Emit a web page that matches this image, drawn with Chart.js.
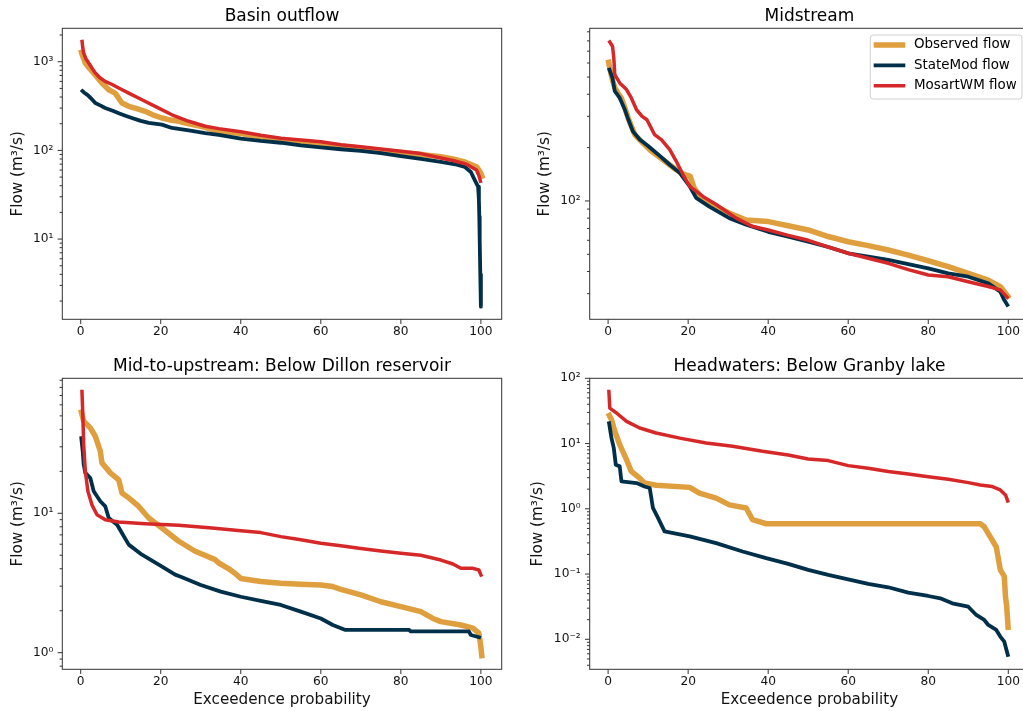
<!DOCTYPE html>
<html>
<head>
<meta charset="utf-8">
<script src="https://cdn.jsdelivr.net/npm/chart.js@4.4.1/dist/chart.umd.min.js"></script>
<style>
  html, body { margin: 0; padding: 0; background: #fff; overflow: hidden; width: 1023px; height: 711px; }
  canvas { position: absolute; }
</style>
</head>
<body>
<canvas id="basin" width="512" height="340" style="left:0;top:0"></canvas>
<canvas id="mid" width="530" height="340" style="left:512px;top:0"></canvas>
<canvas id="dillon" width="512" height="371" style="left:0;top:340px"></canvas>
<canvas id="granby" width="530" height="371" style="left:512px;top:340px"></canvas>
<script>
// series names / colours
const seriesNames = ['Observed flow', 'StateMod flow', 'MosartWM flow'];
const seriesColors = ['#e09f3e', '#003049', '#d62828'];
const xTicks = [0, 20, 40, 60, 80, 100];

// [exceedence %, flow m3/s]
const basinObserved = [[0,1365],[0.5,1150],[1.15,967],[2,860],[3.2,747],[4.2,660],[5.3,575],[7,483],[8.6,443],[10.3,342],[12,314],[14,295],[16.1,276],[18,252],[20.3,232],[22,222],[24.5,213],[27,200],[30.3,186],[34.5,164],[40,155],[45,142],[50,132],[55,126],[60,120],[65,112],[70,106],[75,100],[80,95],[85,90],[90,85],[93,80],[96,74],[98,68],[99,65],[100,55],[100.5,48]];
const basinStateMod = [[0.1,483],[0.8,450],[1.6,425],[2.5,390],[3.65,342],[5,320],[6.1,301],[8,280],[9.5,263],[11,248],[12.8,232],[15,215],[17,204],[20.3,195],[22.8,179],[27,168],[31.1,157],[34.5,150],[40,136],[45,128],[50,122],[55,114],[60,108],[65,103],[70,99],[75,93],[80,86],[85,80],[90,74],[94,69],[96,65],[97.5,57],[98.5,46],[99.3,39],[99.5,28],[99.6,18],[99.7,10],[99.85,4],[100,1.73]];
const basinMosart = [[0.3,1770],[0.5,1450],[0.75,1250],[1.3,1080],[2,967],[2.8,850],[3.65,747],[4.8,660],[6.1,601],[8,550],[9.5,505],[12,443],[15.3,373],[18.6,314],[22.8,252],[27,213],[31.1,187],[34.5,176],[40,162],[45,148],[50,137],[55,131],[60,125],[65,116],[70,110],[75,104],[80,98],[85,92],[90,82],[93,77],[96.4,70],[98.9,60],[99.5,52],[100,43]];

const midObserved = [[0,627],[0.4,563],[1,490],[1.67,435],[2.5,405],[3.3,381],[4.2,335],[5,294],[6.65,237],[8.7,212],[10.8,191],[13.7,171],[17,150],[19,141],[20.5,138],[21.5,118],[24.1,100],[28.7,89],[31,84],[34.5,78],[40,76.5],[45,72.5],[50,68.6],[55,63],[60,58.9],[65,56],[70,52.9],[75,49.5],[80,46],[85,42.6],[90,39],[95,35.8],[98,32.9],[100.3,28.2]];
const midStateMod = [[0.17,563],[1.1,494],[1.67,416],[2.9,381],[4.2,327],[5,290],[6.2,247],[7.9,222],[10,204],[12.5,183],[15.4,160],[17.9,144],[20.4,121],[22,104],[25.3,93],[30.3,80],[34.5,73.5],[40,67],[45,63],[50,59],[55,55],[60,50.7],[65,48.5],[70,46.5],[75,44],[80,41.7],[85,39],[90,37.4],[95,34.3],[98,30.8],[99,27.6],[100,25.4]];
const midMosart = [[0.17,803],[1.1,747],[1.42,641],[1.67,516],[2.9,463],[4.6,425],[5.8,381],[7.1,327],[8.5,300],[9.7,287],[11.6,237],[13.3,222],[15.4,195],[17,168],[18.7,141],[20.4,121],[23.7,106],[27,95.5],[32,80],[36,72],[40,68.6],[45,64],[50,60],[55,55],[60,50.7],[65,47.5],[70,44.5],[75,41],[80,38.2],[85,37.4],[90,35],[95,32.9],[98,31.5],[100,28.2]];

const dillonObserved = [[0,55.5],[0.75,45.7],[2.4,41],[3.65,35.7],[4.9,27.9],[5.3,23],[7.4,19.5],[9.5,17.4],[10.3,14],[12,12.9],[14.5,11.2],[17,9.25],[20.3,7.84],[24.5,6.3],[28.6,5.34],[33.6,4.65],[34.5,4.4],[37,4.0],[38.6,3.7],[40,3.41],[45,3.24],[50,3.15],[55,3.1],[60,3.06],[63,2.98],[65,2.85],[70,2.6],[75,2.32],[80,2.14],[85,1.97],[88,1.76],[90,1.67],[95,1.58],[98,1.5],[99.5,1.38],[100,1.1],[100.3,0.91]];
const dillonStateMod = [[0.1,35.7],[0.5,27.9],[0.75,22.3],[1.15,19.5],[2.4,17.9],[3.25,14.4],[4.9,12.2],[6.15,11.2],[7,9.25],[9.1,8.28],[10.3,7.23],[12,5.96],[15.3,5.05],[19.5,4.28],[23.6,3.63],[25,3.51],[30,3.06],[35,2.74],[40,2.52],[45,2.35],[50,2.2],[55,1.97],[60,1.76],[63,1.58],[66,1.46],[82,1.46],[82.5,1.42],[97,1.42],[97.5,1.34],[100,1.28]];
const dillonMosart = [[0.3,77],[0.5,54],[0.75,31],[1.15,20],[1.8,14.4],[2.8,11.5],[4.07,9.77],[6.15,9.0],[9.5,8.66],[16.1,8.42],[24.5,8.2],[32.8,7.84],[40,7.5],[45,7.27],[50,6.8],[55,6.45],[60,6.1],[65,5.86],[70,5.6],[75,5.37],[80,5.17],[85,5.0],[90,4.62],[93,4.33],[95,4.03],[98,4.03],[99.5,3.92],[100.2,3.51]];

const granbyObserved = [[0,29.4],[0.85,23.2],[1.67,15.4],[2.9,9.6],[4.6,5.65],[5.8,3.75],[7.9,2.96],[9.1,2.48],[12,2.29],[20.4,2.13],[22.8,1.74],[27,1.46],[30.3,1.15],[34.5,1.03],[36.1,0.68],[39.5,0.59],[93,0.59],[94,0.53],[95.5,0.37],[97,0.26],[98,0.116],[99,0.092],[99.3,0.045],[99.6,0.032],[100,0.0139]];
const granbyStateMod = [[0.17,21.9],[0.85,12.1],[1.42,8.5],[1.92,4.73],[2.9,4.47],[3.33,2.63],[7.1,2.48],[9.1,2.2],[10.4,2.08],[11.2,1.03],[12.5,0.72],[14.1,0.45],[20.4,0.377],[27,0.298],[33.6,0.222],[39.5,0.175],[45,0.143],[50,0.116],[55,0.097],[60,0.083],[65,0.0705],[70,0.0627],[75,0.0519],[80,0.0461],[83,0.0425],[86,0.0356],[90,0.0316],[92,0.0236],[94,0.0198],[95,0.0166],[97,0.0139],[98,0.011],[99,0.0092],[100,0.0054]];
const granbyMosart = [[0.17,66.8],[0.42,35],[2.1,29.4],[4.6,21.9],[7.9,17.3],[12,14.5],[17.9,12.1],[24.5,10.2],[31.1,9.06],[38.6,7.6],[45,6.68],[50,5.8],[55,5.48],[60,4.59],[65,4.18],[70,3.72],[75,3.42],[80,3.11],[85,2.83],[90,2.52],[93,2.32],[96,2.19],[98,1.95],[99.3,1.63],[100,1.24]];

const FONT = 'DejaVu Sans';
const lineWidths = [5.5, 3.8, 3.5];

const supMap = { '-': '⁻', '0': '⁰', '1': '¹', '2': '²', '3': '³', '4': '⁴', '5': '⁵', '6': '⁶', '7': '⁷', '8': '⁸', '9': '⁹' };
const pow10Label = (e) => '10' + String(e).split('').map(c => supMap[c]).join('');

// spines + matplotlib-like tick marks
const axesFrame = {
  id: 'axesFrame',
  afterDatasetsDraw(chart) {
    const { ctx, chartArea: a } = chart;
    const x = chart.scales.x, y = chart.scales.y;
    ctx.save();
    ctx.strokeStyle = '#333';
    ctx.lineWidth = 1;
    ctx.strokeRect(a.left, a.top, a.right - a.left, a.bottom - a.top);
    ctx.beginPath();
    xTicks.forEach(v => {
      const px = x.getPixelForValue(v);
      ctx.moveTo(px, a.bottom);
      ctx.lineTo(px, a.bottom + 4.7);
    });
    const lo = Math.floor(Math.log10(y.min)), hi = Math.ceil(Math.log10(y.max));
    for (let e = lo; e <= hi; e++) {
      for (let m = 1; m < 10; m++) {
        const v = m * Math.pow(10, e);
        if (v < y.min * 0.9999 || v > y.max * 1.0001) continue;
        const py = y.getPixelForValue(v);
        ctx.moveTo(a.left, py);
        ctx.lineTo(a.left - (m === 1 ? 4.7 : 2.7), py);
      }
    }
    ctx.stroke();
    ctx.restore();
  }
};

// legend box in the upper right of the axes
const cornerLegend = {
  id: 'cornerLegend',
  afterDraw(chart, args, opts) {
    if (!opts.show) return;
    const { ctx, chartArea: a } = chart;
    const w = 151.7, h = 64;
    const left = a.right - 7.1 - w, top = a.top + 6.7;
    ctx.save();
    ctx.beginPath();
    ctx.roundRect(left, top, w, h, 3);
    ctx.fillStyle = 'rgba(255,255,255,0.8)';
    ctx.fill();
    ctx.strokeStyle = '#d0d0d0';
    ctx.lineWidth = 1;
    ctx.stroke();
    ctx.font = '13.45px "' + FONT + '"';
    ctx.textBaseline = 'middle';
    chart.data.datasets.forEach((ds, i) => {
      const cy = top + 10 + i * 20.35;
      ctx.beginPath();
      ctx.strokeStyle = ds.borderColor;
      ctx.lineWidth = ds.borderWidth;
      ctx.moveTo(left + 3.4, cy);
      ctx.lineTo(left + 35, cy);
      ctx.stroke();
      ctx.fillStyle = '#000';
      ctx.fillText(ds.label, left + 43.7, cy);
    });
    ctx.restore();
  }
};

const panels = [
  { id: 'basin', title: 'Basin outflow', series: [basinObserved, basinStateMod, basinMosart],
    yMin: 1.245, yMax: 2382, yW: 62.3, padR: 10.3, titleTop: 6.5, xH: 20.7, yTitlePad: 9.2, xTitle: false, legend: false },
  { id: 'mid', title: 'Midstream', series: [midObserved, midStateMod, midMosart],
    yMin: 21.5, yMax: 942, yW: 77.7, padR: 12.9, titleTop: 6.5, xH: 20.7, yTitlePad: 23.9, xTitle: false, legend: true },
  { id: 'dillon', title: 'Mid-to-upstream: Below Dillon reservoir', series: [dillonObserved, dillonStateMod, dillonMosart],
    yMin: 0.76, yMax: 93, yW: 62.3, padR: 10.3, titleTop: 16.5, xH: 41.7, yTitlePad: 9.2, xTitle: true, legend: false },
  { id: 'granby', title: 'Headwaters: Below Granby lake', series: [granbyObserved, granbyStateMod, granbyMosart],
    yMin: 0.00347, yMax: 100, yW: 77.7, padR: 12.9, titleTop: 16.5, xH: 41.7, yTitlePad: 16.9, xTitle: true, legend: false }
];

panels.forEach(p => {
  const ctx = document.getElementById(p.id).getContext('2d');
  new Chart(ctx, {
    type: 'line',
    data: {
      datasets: p.series.map((pts, i) => ({
        label: seriesNames[i],
        data: pts.map(([x, y]) => ({ x, y })),
        borderColor: seriesColors[i],
        borderWidth: lineWidths[i],
        pointRadius: 0,
        tension: 0,
        fill: false,
        borderJoinStyle: 'round',
        order: 3 - i
      }))
    },
    options: {
      responsive: false,
      animation: false,
      devicePixelRatio: 1,
      layout: { padding: { left: 0, top: 0, right: p.padR, bottom: 0 }, autoPadding: false },
      plugins: {
        legend: { display: false },
        tooltip: { enabled: false },
        title: {
          display: true, text: p.title, fullSize: false, color: '#000',
          font: { family: FONT, size: 17, weight: 'normal' },
          padding: { top: p.titleTop, bottom: 1.4 }
        },
        cornerLegend: { show: p.legend }
      },
      scales: {
        x: {
          type: 'linear', min: -4.6, max: 105.2,
          afterFit: s => { s.height = p.xH; },
          grid: { display: false, drawTicks: false },
          border: { display: false },
          ticks: { stepSize: 20, includeBounds: false, padding: 5.1, color: '#111', font: { family: FONT, size: 12.2 } },
          title: {
            display: p.xTitle, text: 'Exceedence probability', color: '#111',
            font: { family: FONT, size: 15.2 }, padding: { top: 0, bottom: 1.9 }
          }
        },
        y: {
          type: 'logarithmic', min: p.yMin, max: p.yMax,
          afterFit: s => { s.width = p.yW; },
          grid: { display: false, drawTicks: false },
          border: { display: false },
          ticks: {
            autoSkip: false, padding: 9, color: '#111', font: { family: FONT, size: 12.2 },
            callback: (v) => {
              const e = Math.log10(v), r = Math.round(e);
              return Math.abs(e - r) < 1e-6 ? pow10Label(r) : '';
            }
          },
          title: {
            display: true, text: 'Flow (m³/s)', color: '#111',
            font: { family: FONT, size: 15.2 }, padding: { top: p.yTitlePad, bottom: 0 }
          }
        }
      }
    },
    plugins: [axesFrame, cornerLegend]
  });
});
</script>
</body>
</html>
